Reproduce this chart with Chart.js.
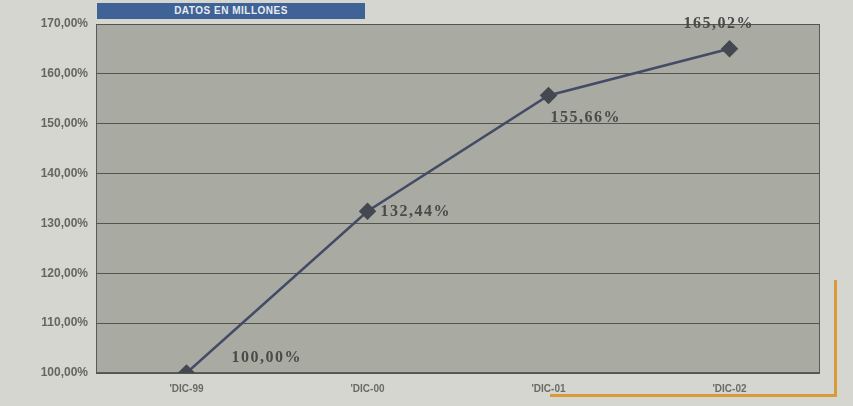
<!DOCTYPE html>
<html>
<head>
<meta charset="utf-8">
<script src="https://cdn.jsdelivr.net/npm/chart.js@4/dist/chart.umd.min.js"></script>
<style>
  html, body { margin: 0; padding: 0; background: #d6d6d1; }
  #wrap { position: relative; width: 853px; height: 406px; overflow: hidden; }
  #report-chart { position: absolute; left: 0; top: 0; }
  #title { position: absolute; left: 97px; top: 3px; width: 268px; height: 16px;
    background: #3f6396; color: #e8ecf2; font: bold 10px "Liberation Sans", Arial, sans-serif;
    text-align: center; line-height: 16px; letter-spacing: 0.5px; }
  #frame { position: absolute; left: 550px; top: 280px; width: 284px; height: 114px;
    border-right: 3px solid #d99a3a; border-bottom: 3px solid #d99a3a; }
</style>
</head>
<body>
<div id="wrap">
  <div id="frame"></div>
  <canvas id="report-chart" width="853" height="406"></canvas>
  <div id="title">DATOS EN MILLONES</div>
</div>
<script>
const categories = ["'DIC-99", "'DIC-00", "'DIC-01", "'DIC-02"];
const values = [100.00, 132.44, 155.66, 165.02];
const yTicks = [100, 110, 120, 130, 140, 150, 160, 170];

function fmt(v) {
    return v.toFixed(2).replace('.', ',') + '%';
}

// value labels next to each point
const labelOffsets = [[45, -15], [13, 1], [2, 22], [-46, -25]];
const valueLabels = {
    id: 'valueLabels',
    afterDatasetsDraw(chart) {
        const ctx = chart.ctx;
        const meta = chart.getDatasetMeta(0);
        ctx.save();
        ctx.font = 'bold 16px "Liberation Serif", "Times New Roman", serif';
        ctx.letterSpacing = '1.5px';
        ctx.fillStyle = '#4a4a48';
        ctx.textAlign = 'left';
        ctx.textBaseline = 'middle';
        meta.data.forEach((pt, i) => {
            const o = labelOffsets[i];
            ctx.fillText(fmt(values[i]), pt.x + o[0], pt.y + o[1]);
        });
        ctx.restore();
    }
};

const plotBg = {
    id: 'plotBg',
    beforeDraw(chart) {
        const a = chart.chartArea;
        const ctx = chart.ctx;
        ctx.save();
        ctx.fillStyle = '#a9aaa2';
        ctx.fillRect(a.left, a.top, a.right - a.left, a.bottom - a.top);
        ctx.strokeStyle = '#5a5a58';
        ctx.lineWidth = 1;
        ctx.strokeRect(a.left + 0.5, a.top + 0.5, a.right - a.left - 1, a.bottom - a.top - 1);
        ctx.restore();
    }
};

const ctx = document.getElementById('report-chart').getContext('2d');
new Chart(ctx, {
    type: 'line',
    data: {
        labels: categories,
        datasets: [{
            data: values,
            borderColor: '#434b66',
            borderWidth: 2.5,
            pointStyle: 'rectRot',
            pointRadius: 7,
            pointBackgroundColor: '#454850',
            pointBorderColor: '#454850',
            tension: 0
        }]
    },
    options: {
        responsive: false,
        animation: false,
        layout: { padding: { left: 0, right: 33, top: 24, bottom: 0 } },
        plugins: { legend: { display: false }, tooltip: { enabled: false } },
        scales: {
            x: {
                offset: true,
                grid: { display: false },
                border: { display: false },
                ticks: { color: '#6a6a66', font: { family: '"Liberation Sans", Arial', size: 10, weight: 'bold' }, padding: 2 },
                afterFit(s) { s.height = 33; }
            },
            y: {
                min: 100, max: 170,
                afterBuildTicks(s) { s.ticks = yTicks.map(v => ({ value: v })); },
                grid: { color: '#55554f', lineWidth: 1, drawTicks: false },
                border: { display: false },
                ticks: {
                    color: '#66665f',
                    font: { family: '"Liberation Sans", Arial', size: 12, weight: 'bold' },
                    padding: 8,
                    callback: v => fmt(v)
                },
                afterFit(s) { s.width = 96; }
            }
        }
    },
    plugins: [plotBg, valueLabels]
});
</script>
</body>
</html>
